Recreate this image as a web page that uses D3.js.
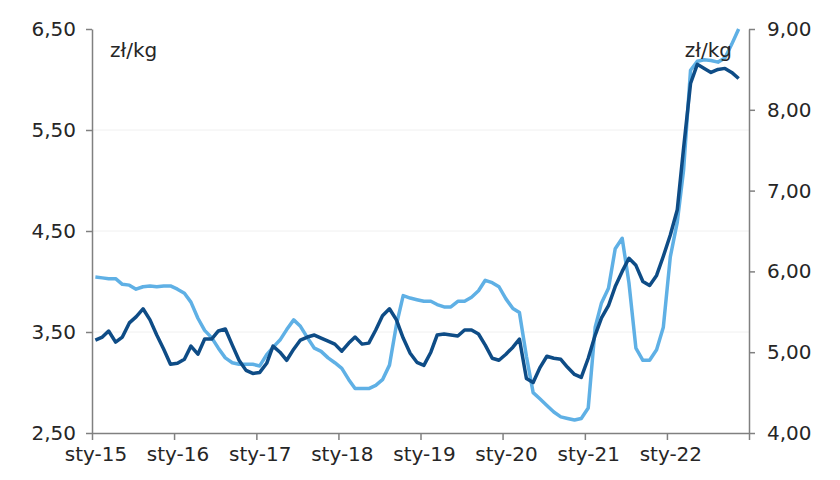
<!DOCTYPE html>
<html>
<head>
<meta charset="utf-8">
<script src="https://cdn.jsdelivr.net/npm/d3@7"></script>
<style>
  body { margin: 0; background: #fff; }
  .tick text { font-family: "DejaVu Sans", sans-serif; font-size: 20px; fill: #262626; }
  .unit { font-family: "DejaVu Sans", sans-serif; font-size: 20px; fill: #262626; }
  .axis path, .axis line { stroke: #808080; stroke-width: 1.5; }
  .grid line { stroke: #f0f0f0; stroke-width: 1; }
  .linepath { fill: none; stroke-width: 3.5; stroke-linejoin: round; }
</style>
</head>
<body>
<div class="container"></div>
<script>
const WIDTH = 840;
const HEIGHT = 480;
const LEFT = 92;
const RIGHT = 749;
const TOP = 29;
const BOTTOM = 433;

// monthly data, first point = sty-15
const START_YEAR = 2015;
const END_YEAR = 2023;

const darkValues = [3.42,3.45,3.51,3.40,3.45,3.59,3.65,3.73,3.62,3.47,3.33,3.18,
  3.19,3.23,3.36,3.28,3.43,3.43,3.51,3.53,3.37,3.22,3.12,3.09,
  3.10,3.19,3.36,3.30,3.22,3.33,3.42,3.45,3.47,3.44,3.41,3.38,
  3.31,3.39,3.45,3.38,3.39,3.52,3.66,3.73,3.62,3.44,3.29,3.20,
  3.17,3.30,3.47,3.48,3.47,3.46,3.52,3.52,3.48,3.37,3.24,3.22,
  3.28,3.35,3.43,3.04,3.00,3.15,3.26,3.24,3.23,3.15,3.08,3.05,
  3.24,3.47,3.64,3.76,3.95,4.10,4.23,4.16,4.00,3.96,4.06,4.25,
  4.46,4.71,5.32,5.96,6.15,6.11,6.07,6.10,6.11,6.07,6.01];

const lightValues = [5.93,5.92,5.91,5.91,5.84,5.83,5.78,5.81,5.82,5.81,5.82,5.82,
  5.78,5.73,5.62,5.42,5.27,5.18,5.05,4.93,4.87,4.85,4.85,4.85,
  4.83,4.97,5.06,5.15,5.28,5.40,5.32,5.18,5.05,5.01,4.93,4.87,
  4.80,4.66,4.55,4.55,4.55,4.59,4.66,4.84,5.34,5.70,5.67,5.65,
  5.63,5.63,5.59,5.56,5.56,5.63,5.63,5.68,5.76,5.89,5.86,5.81,
  5.66,5.54,5.49,4.95,4.50,4.42,4.34,4.26,4.20,4.18,4.16,4.18,
  4.31,5.31,5.61,5.79,6.28,6.41,5.86,5.05,4.90,4.90,5.03,5.31,
  6.18,6.61,7.25,8.49,8.60,8.62,8.61,8.59,8.64,8.81,9.00];

const leftTicks = [2.5, 3.5, 4.5, 5.5, 6.5];
const rightTicks = [4, 5, 6, 7, 8, 9];
const gridTicks = [3.5, 4.5, 5.5];
const yearLabels = ["sty-15","sty-16","sty-17","sty-18","sty-19","sty-20","sty-21","sty-22"];
const unitLabel = "zł/kg";

const DARK = "#0e4c86";
const LIGHT = "#5fb0e5";

var xScale = d3.scaleTime()
    .domain([new Date(START_YEAR, 0, 1), new Date(END_YEAR, 0, 1)])
    .range([LEFT, RIGHT]);

var yLeft = d3.scaleLinear().domain([2.5, 6.5]).range([BOTTOM, TOP]);
var yRight = d3.scaleLinear().domain([4, 9]).range([BOTTOM, TOP]);

var toPoints = function(values){
    return values.map(function(v, i){
        return { date: new Date(START_YEAR, i, 16), value: v };
    });
};

var comma = function(v){ return d3.format(".2f")(v).replace(".", ","); };

var svg = d3.select('.container').append('svg')
    .attr('width', WIDTH)
    .attr('height', HEIGHT);

svg.append('g').attr('class', 'grid')
  .selectAll('line').data(gridTicks).enter().append('line')
    .attr('x1', LEFT).attr('x2', RIGHT)
    .attr('y1', function(d){ return yLeft(d); })
    .attr('y2', function(d){ return yLeft(d); });

var halfMonth = (RIGHT - LEFT) / ((END_YEAR - START_YEAR) * 12) / 2;

var xAxis = d3.axisBottom(xScale)
    .ticks(d3.timeYear.every(1))
    .tickSize(7)
    .tickSizeOuter(0)
    .tickFormat(function(d){
        var i = d.getFullYear() - START_YEAR;
        return i < yearLabels.length ? yearLabels[i] : "";
    });

var gx = svg.append('g').attr('class', 'axis')
    .attr('transform', 'translate(0,' + BOTTOM + ')')
    .call(xAxis);
gx.selectAll('.tick text').attr('dx', halfMonth).attr('y', 14);

var gl = svg.append('g').attr('class', 'axis')
    .attr('transform', 'translate(' + LEFT + ',0)')
    .call(d3.axisLeft(yLeft).tickValues(leftTicks).tickSize(6).tickSizeOuter(0).tickFormat(comma));
gl.selectAll('.tick text').attr('x', -16);

var gr = svg.append('g').attr('class', 'axis')
    .attr('transform', 'translate(' + RIGHT + ',0)')
    .call(d3.axisRight(yRight).tickValues(rightTicks).tickSize(6).tickSizeOuter(0).tickFormat(comma));
gr.selectAll('.tick text').attr('x', 18);

svg.selectAll('.axis .domain').attr('stroke', '#808080');

var lineLeft = d3.line()
    .x(function(d){ return xScale(d.date); })
    .y(function(d){ return yLeft(d.value); });

var lineRight = d3.line()
    .x(function(d){ return xScale(d.date); })
    .y(function(d){ return yRight(d.value); });

svg.append('path')
    .datum(toPoints(lightValues))
    .attr('class', 'linepath')
    .attr('stroke', LIGHT)
    .attr('d', lineRight);

svg.append('path')
    .datum(toPoints(darkValues))
    .attr('class', 'linepath')
    .attr('stroke', DARK)
    .attr('d', lineLeft);

svg.append('text').attr('class', 'unit')
    .attr('x', 110).attr('y', 57)
    .text(unitLabel);

svg.append('text').attr('class', 'unit')
    .attr('x', 732).attr('y', 57)
    .attr('text-anchor', 'end')
    .text(unitLabel);
</script>
</body>
</html>
